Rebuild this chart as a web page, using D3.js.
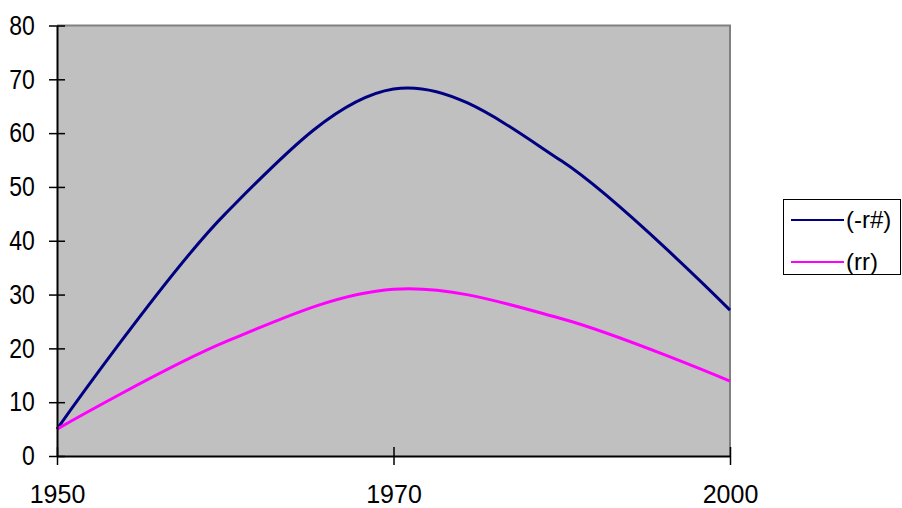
<!DOCTYPE html>
<html>
<head>
<meta charset="utf-8">
<script src="https://cdn.jsdelivr.net/npm/d3@7"></script>
<style>
  html, body { margin: 0; padding: 0; background: #ffffff; }
  svg { display: block; font-family: "Liberation Sans", Arial, sans-serif; }
</style>
</head>
<body>
<svg id="chart" width="902" height="508"></svg>
<script>
// Years along the category axis
const years = ["1950", "1960", "1970", "1985", "2000"];
// Series values
const seriesA = [5, 45.0, 68.2, 54.8, 27.1];
const seriesB = [5, 21.2, 31.0, 25.5, 13.9];
const seriesNames = ["(-r#)", "(rr)"];
const seriesColors = ["#000080", "#FF00FF"];
// Axis labels
const xTickLabels = ["1950", "1970", "2000"];
const yTicks = [0, 10, 20, 30, 40, 50, 60, 70, 80];

const svg = d3.select("#chart");
const plot = { left: 57, right: 730, top: 25.5, bottom: 456 };

const x = d3.scalePoint().domain(years).range([plot.left, plot.right]);
const y = d3.scaleLinear().domain([0, 80]).range([plot.bottom, plot.top]);

// Plot area
svg.append("rect")
  .attr("x", plot.left).attr("y", plot.top)
  .attr("width", plot.right - plot.left).attr("height", plot.bottom - plot.top)
  .attr("fill", "#C0C0C0");
svg.append("path")
  .attr("d", `M${plot.left},${plot.top}H${plot.right}V${plot.bottom}`)
  .attr("fill", "none").attr("stroke", "#808080").attr("stroke-width", 2);

// Series lines (smoothed)
const line = d3.line()
  .x((d, i) => x(years[i]))
  .y(d => y(d))
  .curve(d3.curveCardinal.tension(0));

[seriesA, seriesB].forEach((vals, k) => {
  svg.append("path")
    .datum(vals)
    .attr("d", line)
    .attr("fill", "none")
    .attr("stroke", seriesColors[k])
    .attr("stroke-width", 3)
    .attr("stroke-linejoin", "round");
});

// Y axis (labels slightly condensed and tall)
const yAxis = svg.append("g")
  .attr("transform", `translate(${plot.left},0)`)
  .call(d3.axisLeft(y).tickValues(yTicks).tickSize(8).tickSizeOuter(0).tickPadding(14));
yAxis.select(".domain").attr("stroke", "#000").attr("stroke-width", 2);
yAxis.selectAll(".tick line").attr("x1", 8).attr("stroke", "#000").attr("stroke-width", 1.5);
yAxis.selectAll(".tick text")
  .attr("x", -24)
  .attr("transform", "scale(0.92,1.09)")
  .attr("font-size", 25).attr("fill", "#000")
  .style("font-family", "'Liberation Sans', Arial, sans-serif");

// X axis
const xAxis = svg.append("g")
  .attr("transform", `translate(0,${plot.bottom})`)
  .call(d3.axisBottom(x).tickValues(xTickLabels).tickSize(9).tickSizeOuter(0));
xAxis.select(".domain").attr("stroke", "#000").attr("stroke-width", 2);
xAxis.selectAll(".tick line").attr("y1", -9).attr("stroke", "#000").attr("stroke-width", 1.5);
xAxis.selectAll(".tick text")
  .attr("y", 47).attr("dy", 0)
  .attr("font-size", 25).attr("fill", "#000")
  .style("font-family", "'Liberation Sans', Arial, sans-serif");

// Legend
const legend = svg.append("g");
legend.append("rect")
  .attr("x", 783.5).attr("y", 199.5).attr("width", 117).attr("height", 75)
  .attr("fill", "#fff").attr("stroke", "#000").attr("stroke-width", 1);
const legendY = [220, 262];
seriesNames.forEach((name, k) => {
  legend.append("line")
    .attr("x1", 791).attr("x2", 844)
    .attr("y1", legendY[k]).attr("y2", legendY[k])
    .attr("stroke", seriesColors[k]).attr("stroke-width", 2);
  legend.append("text")
    .attr("x", 846).attr("y", legendY[k])
    .attr("dy", "0.35em")
    .attr("font-size", 24)
    .text(name);
});
</script>
</body>
</html>
